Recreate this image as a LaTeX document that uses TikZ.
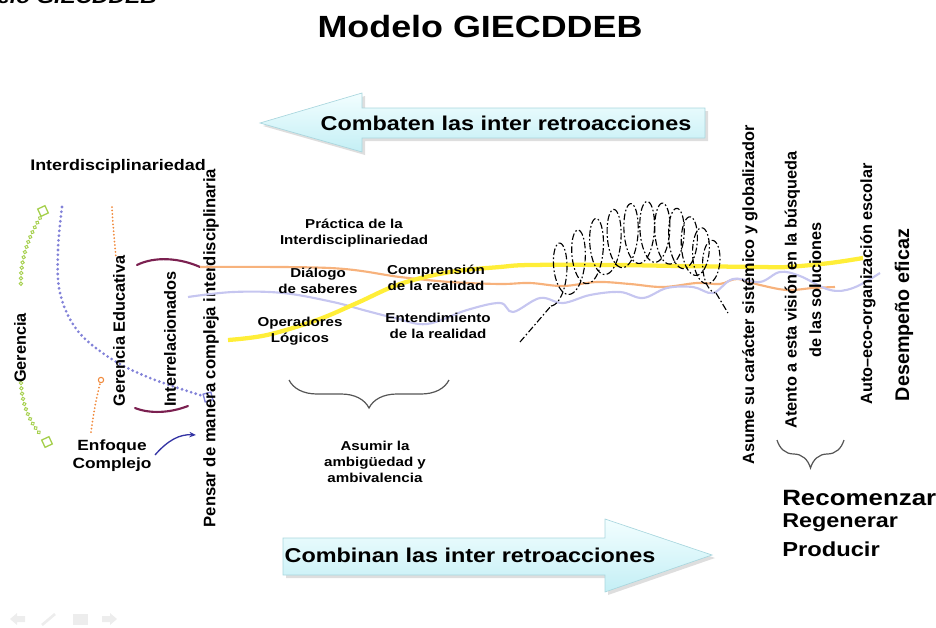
\documentclass[tikz,border=0pt]{standalone}
\usepackage{fontspec}
\setmainfont{Liberation Sans}[FakeStretch=1.17]
\newfontfamily\rotfont{Liberation Sans}
\usetikzlibrary{arrows.meta,decorations.pathreplacing,decorations.markings}

\definecolor{arrowtop}{HTML}{F2FEFF}
\definecolor{arrowbot}{HTML}{C4EFF5}
\definecolor{arrowedge}{HTML}{A9D6DE}
\definecolor{gergreen}{HTML}{A6D04E}
\definecolor{dotblue}{HTML}{8282D8}
\definecolor{dotorange}{HTML}{F08A3C}
\definecolor{maroonline}{HTML}{7B2050}
\definecolor{navyline}{HTML}{3434A4}
\definecolor{lineorange}{HTML}{F7B27C}
\definecolor{lineyellow}{HTML}{FFEE38}
\definecolor{linelav}{HTML}{C6C6F0}
\definecolor{bracegray}{HTML}{555555}

\begin{document}
\begin{tikzpicture}[x=0.75pt,y=-0.75pt,
  lbl/.style={font=\bfseries\fontsize{9.7}{11.6}\selectfont, align=center, inner sep=0pt},
  rot/.style={rotate=90, font=\rotfont\bfseries\fontsize{12.2}{18.5}\selectfont, align=center, inner sep=0pt},
  bigarrow/.style={top color=arrowtop, bottom color=arrowbot, draw=arrowedge, line width=0.5pt},
  arrowshadow/.style={fill=black, fill opacity=0.13, draw=none},
  dotline/.style={line cap=round, dash pattern=on 0pt off 3.6pt, line width=2.3pt},
  ringline/.style={decoration={markings, mark=between positions 0 and 1 step 4pt with {\draw[gergreen, line width=0.7pt] (0,0) circle (1.3pt);}}, postaction={decorate}},
  helixline/.style={dash pattern=on 5pt off 1.8pt on 1.2pt off 1.8pt, line width=0.85pt},
  curly/.style={decorate, decoration={brace,mirror,amplitude=21pt}, draw=bracegray, line width=0.9pt},
  marker/.style={draw=gergreen, fill=white, line width=1pt, minimum size=6pt, inner sep=0pt, rotate=25},
  navicon/.style={fill=black!7, draw=none}
]
\useasboundingbox (0,0) rectangle (936,628);

% caption fragment at the very top edge
\node[anchor=base east, inner sep=0pt, font=\bfseries\itshape\fontsize{14.6}{16}\selectfont] (capfrag) at (157,3) {Modelo GIECDDEB};

% title
\node[inner sep=0pt, anchor=base, font=\bfseries\fontsize{23}{26}\selectfont] (title) at (480,37) {Modelo GIECDDEB};

% upper arrow (pointing left)
\fill[arrowshadow] (263,126) -- (365,96) -- (365,111) -- (708,111) -- (708,141) -- (365,141) -- (365,155) -- cycle;
\shade[bigarrow] (260,123) -- (362,93) -- (362,108) -- (705,108) -- (705,138) -- (362,138) -- (362,152) -- cycle;
\node[inner sep=0pt, font=\bfseries\fontsize{15}{18}\selectfont] (combaten) at (506,123) {Combaten las inter retroacciones};

% lower arrow (pointing right)
\fill[arrowshadow] (286,541) -- (608,541) -- (608,522) -- (715,558) -- (608,595) -- (608,578) -- (286,578) -- cycle;
\shade[bigarrow] (283,538) -- (605,538) -- (605,519) -- (712,555) -- (605,592) -- (605,575) -- (283,575) -- cycle;
\node[inner sep=0pt, font=\bfseries\fontsize{15}{18}\selectfont] (combinan) at (470,555) {Combinan las inter retroacciones};

% left block
\node[inner sep=0pt, font=\bfseries\fontsize{11.5}{14}\selectfont] (interd) at (118,167) {Interdisciplinariedad};

\node[marker] (gtop) at (43,211) {};
\node[marker] (gbot) at (47,442) {};
\path[ringline] (40,218) .. controls (28,238) and (20,260) .. (21,286);
\path[ringline] (21,383) .. controls (22,405) and (30,423) .. (42,436);
\node[rot] (gerencia) at (20,348) {Gerencia};

\node[draw=dotblue, line width=1pt, minimum size=6pt, inner sep=0pt, rotate=15] (bsq) at (208,397) {};
\draw[dotline, dotblue] plot[smooth, tension=0.6] coordinates {(62,207) (58,250) (60,293) (77,330) (110,358) (150,378) (203,396)};

\coordinate (oa) at (112,207);
\coordinate (ob) at (116,258);
\draw[dotline, dotorange, line width=1.5pt, dash pattern=on 0pt off 2.6pt] (oa) .. controls (113,230) and (115,245) .. (ob);
\node[draw=dotorange, circle, line width=0.8pt, minimum size=4pt, inner sep=0pt] (ocirc) at (101,380) {};
\coordinate (oc) at (91,432);
\draw[dotline, dotorange, line width=1.5pt, dash pattern=on 0pt off 2.6pt] (oc) .. controls (94,410) and (97,395) .. (ocirc);

\node[rot] (gered) at (119,331) {Gerencia Educativa};
\node[rot] (interrel) at (170,339) {Interrelacionados};

\draw[maroonline, line width=1.6pt, line cap=round] (137,265) .. controls (155,256) and (180,258) .. (200,267);
\draw[maroonline, line width=1.6pt, line cap=round] (135,408) .. controls (150,414) and (170,413) .. (188,406);

\coordinate (nva) at (155,455);
\coordinate (nvb) at (196,435);
\draw[navyline, line width=1pt, -{Stealth[length=5pt,width=4pt]}] (nva) .. controls (168,440) and (180,434) .. (nvb);

\node[inner sep=0pt, align=center, font=\bfseries\fontsize{11.1}{13.5}\selectfont] (enfoque) at (112,456) {Enfoque\\Complejo};

\node[rot, font=\rotfont\bfseries\fontsize{12.5}{15}\selectfont] (pensar) at (211,348) {Pensar de manera compleja interdisciplinaria};

% interwoven strands
\draw[lineorange, line width=1.6pt] plot[smooth, tension=0.6] coordinates {(200,267) (330,268) (400,277) (450,282) (500,284) (530,283) (563,286) (597,282) (630,284) (663,287) (697,283) (720,284) (737,279) (760,285) (787,290) (813,288) (835,287)};
\draw[linelav, line width=1.6pt] plot[smooth, tension=0.6] coordinates {(188,297) (233,292) (283,293) (333,302) (367,311) (395,318) (427,324) (467,310) (500,303) (513,312) (540,298) (563,303) (590,295) (620,292) (643,298) (667,288) (693,287) (713,293) (733,279) (760,282) (780,272) (800,276) (830,290) (853,288) (880,273)};
\draw[lineyellow, line width=3.2pt] plot[smooth, tension=0.6] coordinates {(228,340) (267,335) (317,320) (357,303) (400,284) (450,272) (500,267) (530,265) (613,265) (680,266) (760,267) (787,267) (830,263) (863,258)};

\node[lbl] (practica) at (354,233) {Práctica de la\\Interdisciplinariedad};
\node[lbl] (dialogo) at (318,281) {Diálogo\\de saberes};
\node[lbl] (comprension) at (436,278) {Comprensión\\de la realidad};
\node[lbl] (operadores) at (300,331) {Operadores\\Lógicos};
\node[lbl] (entendimiento) at (438,326) {Entendimiento\\de la realidad};

% helix bent into an arch
\coordinate (tailA) at (520,342);
\coordinate (hStart) at (551,306);
\coordinate (hEnd) at (716,293);
\coordinate (tailB) at (728,313);
\draw[helixline] (tailA) -- (hStart);
\draw[helixline] plot[domain=0:1, samples=700, variable=\s]
  ({551 + 165*(0.6*\s + 0.4*sin(90*\s)) + 11*sin(3960*\s)},
   {278 - 42*sin(180*\s) - 8*\s + (28 + 5*sin(180*\s) - 5*\s)*cos(3960*\s)});
\draw[helixline] (hEnd) -- (tailB);

% braces
\coordinate (bl) at (289,380);
\coordinate (br) at (449,380);
\draw[curly] (bl) -- (br);
\node[lbl, font=\bfseries\fontsize{9.7}{12.2}\selectfont] (asumir) at (375,462) {Asumir la\\ambigüedad y\\ambivalencia};

\coordinate (rbl) at (777,440);
\coordinate (rbr) at (844,440);
\draw[curly] (rbl) -- (rbr);

% right block
\node[rot] (asume) at (750,295) {Asume su carácter sistémico y globalizador};
\node[rot] (atento) at (803,290) {Atento a esta visión en la búsqueda\\de las soluciones};
\node[rot] (auto) at (868,284) {Auto–eco-organización escolar};
\node[rot, font=\rotfont\bfseries\fontsize{14.8}{17}\selectfont] (desempeno) at (904,315) {Desempeño eficaz};

\node[anchor=west, inner sep=0pt, font=\bfseries\fontsize{16.6}{19}\selectfont] (recomenzar) at (782,498) {Recomenzar};
\node[anchor=west, inner sep=0pt, font=\bfseries\fontsize{15}{18}\selectfont] (regenerar) at (782,523) {Regenerar};
\node[anchor=west, inner sep=0pt, font=\bfseries\fontsize{15.2}{18}\selectfont] (producir) at (782,549) {Producir};

% faint slide navigation icons
\fill[navicon] (10,619) -- (17,613) -- (17,616) -- (25,616) -- (25,622) -- (17,622) -- (17,625) -- cycle;
\draw[black!7, line width=2pt] (42,625) -- (55,614);
\fill[navicon] (73,614) rectangle (88,625);
\fill[navicon] (117,619) -- (110,613) -- (110,616) -- (102,616) -- (102,622) -- (110,622) -- (110,625) -- cycle;
\end{tikzpicture}
\end{document}
